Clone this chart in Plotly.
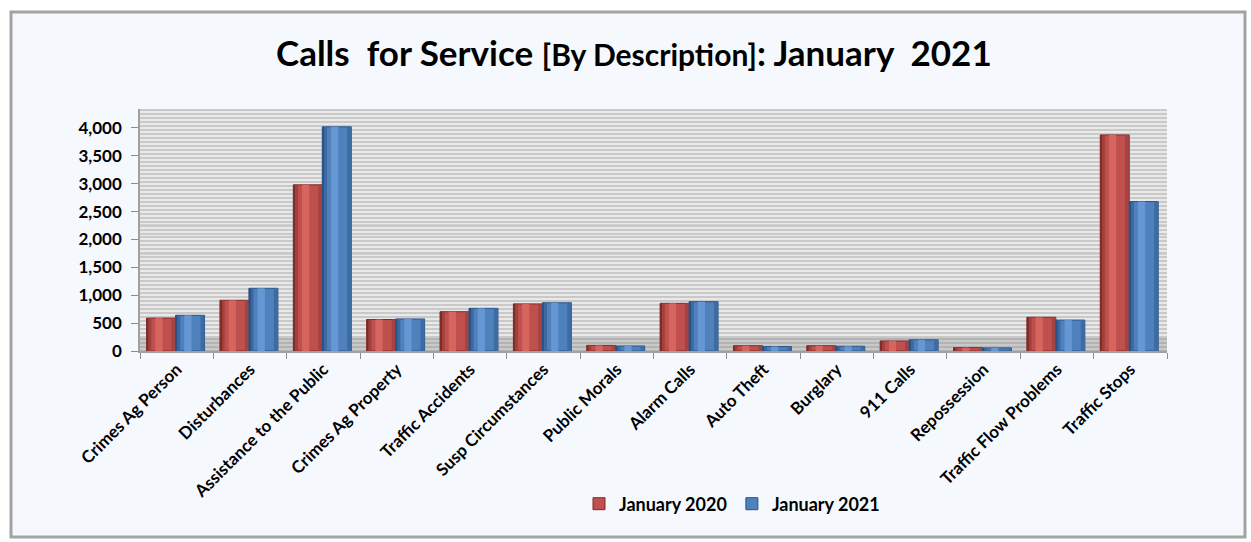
import plotly.graph_objects as go

categories = ["Crimes Ag Person", "Disturbances", "Assistance to the Public", "Crimes Ag Property",
              "Traffic Accidents", "Susp Circumstances", "Public Morals", "Alarm Calls", "Auto Theft",
              "Burglary", "911 Calls", "Repossession", "Traffic Flow Problems", "Traffic Stops"]
jan_2020 = [590, 910, 2980, 565, 705, 845, 100, 855, 95, 95, 180, 60, 605, 3875]
jan_2021 = [640, 1125, 4020, 575, 765, 865, 90, 885, 80, 85, 200, 55, 555, 2680]
y_ticks = [0, 500, 1000, 1500, 2000, 2500, 3000, 3500, 4000]
series_names = ["January 2020", "January 2021"]

FONT = "Lato"
W, H = 1251, 542
L, R, T, B = 140, 84, 109, 191
YMAX = 4340
DEPTH = 250  # back-wall offset (in value units) of the 3D look

pw = W - L - R
ph = H - T - B


def px_x(px):
    return (px - L) / pw


def px_y(py):
    return (H - B - py) / ph


fig = go.Figure()

bar_w = 0.395
specs = [
    (jan_2020, series_names[0], -0.41, "#c0504d", "#7d2b29", "#a03f3c", "#d6645f", "#a44442"),
    (jan_2021, series_names[1], -0.41 + bar_w, "#4f81bd", "#2b5284", "#3c68a0", "#6497d4", "#3d6ba3"),
]
for vals, name, off, base, dark1, dark2, hi, rdark in specs:
    fig.add_trace(go.Bar(x=categories, y=vals, name=name, offset=off, width=bar_w,
                         marker=dict(color=base, line=dict(color=dark1, width=1)),
                         showlegend=True))
    strips = [(0.0, 0.07, dark1), (0.07, 0.16, dark2), (0.30, 0.55, hi), (0.86, 1.0, rdark)]
    for a, b, c in strips:
        fig.add_trace(go.Bar(x=categories, y=vals, offset=off + a * bar_w, width=(b - a) * bar_w,
                             marker=dict(color=c, line=dict(width=0)), showlegend=False,
                             hoverinfo="skip"))

shapes = []
# outer frame
shapes.append(dict(type="rect", xref="paper", yref="paper",
                   x0=px_x(11), x1=px_x(1245), y0=px_y(537), y1=px_y(12),
                   fillcolor="#f5f9fe", line=dict(color="#a3a3a3", width=3), layer="below"))
# back wall
shapes.append(dict(type="rect", xref="paper", yref="y", x0=0, x1=1, y0=0, y1=YMAX,
                   fillcolor="#e9e9e9", line=dict(width=0), layer="below"))
# floor
shapes.append(dict(type="rect", xref="paper", yref="y", x0=0, x1=1, y0=0, y1=DEPTH,
                   fillcolor="#b3b3b3", line=dict(width=0), layer="between"))
# major gridlines on back wall
for v in y_ticks[1:]:
    shapes.append(dict(type="line", xref="paper", yref="y", x0=0, x1=1, y0=v + DEPTH, y1=v + DEPTH,
                       line=dict(color="#8c8c8c", width=1.5), layer="between"))
shapes.append(dict(type="line", xref="paper", yref="y", x0=0, x1=1, y0=DEPTH, y1=DEPTH,
                   line=dict(color="#9a9a9a", width=1), layer="between"))

title_text = ("<b>Calls  for Service <span style='font-size:30px'>[By Description]</span>: "
              "January  2021</b>")
annotations = [dict(text=title_text, xref="paper", yref="paper", x=px_x(634), y=px_y(52),
                    xanchor="center", yanchor="middle", showarrow=False,
                    font=dict(family=FONT, size=35, color="#000000"))]

fig.update_layout(
    width=W, height=H,
    margin=dict(l=L, r=R, t=T, b=B, pad=0),
    paper_bgcolor="#ffffff",
    plot_bgcolor="rgba(0,0,0,0)",
    barmode="overlay",
    shapes=shapes,
    annotations=annotations,
    showlegend=True,
    legend=dict(orientation="h", x=px_x(732), y=px_y(504), xanchor="center", yanchor="middle",
                font=dict(family=FONT, size=18, color="#000000", weight="bold"),
                bgcolor="rgba(0,0,0,0)", itemwidth=30, traceorder="normal"),
    xaxis=dict(type="category", categoryorder="array", categoryarray=categories,
               range=[-0.5, len(categories) - 0.5], tickangle=-45,
               tickfont=dict(family=FONT, size=17, color="#000000", weight="bold"),
               showline=True, linecolor="#a0a0a0", linewidth=1.5,
               ticks="outside", ticklen=6, tickcolor="#8c8c8c", tickson="boundaries",
               showgrid=False, automargin=False, fixedrange=True),
    yaxis=dict(range=[0, YMAX], tickvals=y_ticks,
               ticktext=[f"{v:,}" for v in y_ticks],
               tickfont=dict(family=FONT, size=17, color="#000000", weight="bold"),
               showline=True, linecolor="#a0a0a0", linewidth=1.5,
               ticks="outside", ticklen=7, tickcolor="#8c8c8c", ticklabelstandoff=6,
               showgrid=False, zeroline=False, automargin=False, fixedrange=True,
               minor=dict(tick0=DEPTH, dtick=500 / 7, showgrid=True, gridcolor="#c9c9c9",
                          gridwidth=2)),
)

fig.write_html("out.html")
